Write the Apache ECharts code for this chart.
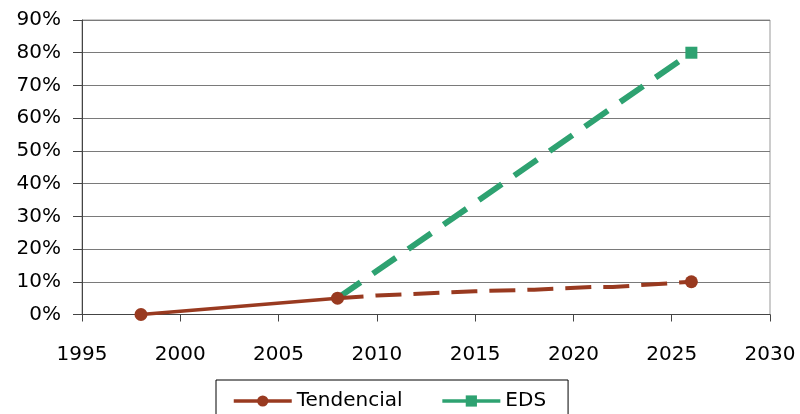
<!DOCTYPE html>
<html>
<head>
<meta charset="utf-8">
<script src="https://cdn.jsdelivr.net/npm/echarts@6/dist/echarts.min.js"></script>
<style>
  html, body { margin: 0; padding: 0; background: #fff; }
  #chart { width: 800px; height: 414px; }
</style>
</head>
<body>
<div id="chart"></div>
<script>
// Historical trend (solid) and projected trend (dashed), percent
const tendHistYears = [1998, 2008];
const tendHistValues = [0, 5];
const tendProjYears = [2008, 2010, 2015, 2018, 2021, 2022, 2026];
const tendProjValues = [5, 5.8, 7.1, 7.6, 8.4, 8.4, 10];
// EDS scenario, percent
const edsYears = [2008, 2026];
const edsValues = [5, 80];

const xTicks = { min: 1995, max: 2030, interval: 5 };
const yTicks = { min: 0, max: 90, interval: 10 };

const BROWN = '#993a20';
const GREEN = '#2ea271';
const FONT = 'DejaVu Sans, Arial, sans-serif';

const pairs = (xs, ys) => xs.map((x, i) => [x, ys[i]]);

// marker only on the final point of a projected line
const lastMarked = (xs, ys) => xs.map((x, i) => (
  i === xs.length - 1 ? { value: [x, ys[i]] } : { value: [x, ys[i]], symbol: 'none' }
));

const chart = echarts.init(document.getElementById('chart'));
chart.setOption({
  animation: false,
  grid: {
    left: 82, right: 30, top: 20, bottom: 99.5,
    show: true, borderColor: '#999', borderWidth: 1
  },
  legend: {
    data: ['Tendencial', 'EDS'],
    left: 216, top: 380,
    padding: [11, 22, 12, 16],
    borderColor: '#000', borderWidth: 1,
    itemWidth: 58, itemHeight: 14, itemGap: 38,
    lineStyle: { type: 'solid', width: 3.5 },
    textStyle: { fontFamily: FONT, fontSize: 20, color: '#000' }
  },
  xAxis: {
    type: 'value',
    min: xTicks.min, max: xTicks.max, interval: xTicks.interval,
    axisLine: { lineStyle: { color: '#444', width: 1 } },
    axisTick: { show: true, length: 7, lineStyle: { color: '#444' } },
    axisLabel: { fontFamily: FONT, fontSize: 20, color: '#000', margin: 30, formatter: v => String(v) },
    splitLine: { show: false }
  },
  yAxis: {
    type: 'value',
    min: yTicks.min, max: yTicks.max, interval: yTicks.interval,
    axisLine: { show: true, lineStyle: { color: '#444', width: 1 } },
    axisTick: { show: true, length: 9, lineStyle: { color: '#444' } },
    axisLabel: { fontFamily: FONT, fontSize: 20, color: '#000', margin: 21, formatter: '{value}%' },
    splitLine: { lineStyle: { color: '#7a7a7a', width: 1 } }
  },
  series: [
    {
      name: 'EDS',
      type: 'line',
      z: 2,
      symbol: 'rect',
      symbolSize: 12,
      data: lastMarked(edsYears, edsValues),
      itemStyle: { color: GREEN },
      lineStyle: { color: GREEN, width: 6, type: [28, 15] }
    },
    {
      name: 'Tendencial',
      type: 'line',
      z: 3,
      symbol: 'circle',
      symbolSize: 13,
      data: pairs(tendHistYears, tendHistValues),
      itemStyle: { color: BROWN },
      lineStyle: { color: BROWN, width: 3.5 }
    },
    {
      name: 'Tendencial',
      type: 'line',
      z: 3,
      symbol: 'circle',
      symbolSize: 13,
      data: lastMarked(tendProjYears, tendProjValues),
      itemStyle: { color: BROWN },
      lineStyle: { color: BROWN, width: 4, type: [26, 12] }
    }
  ]
});
</script>
</body>
</html>
